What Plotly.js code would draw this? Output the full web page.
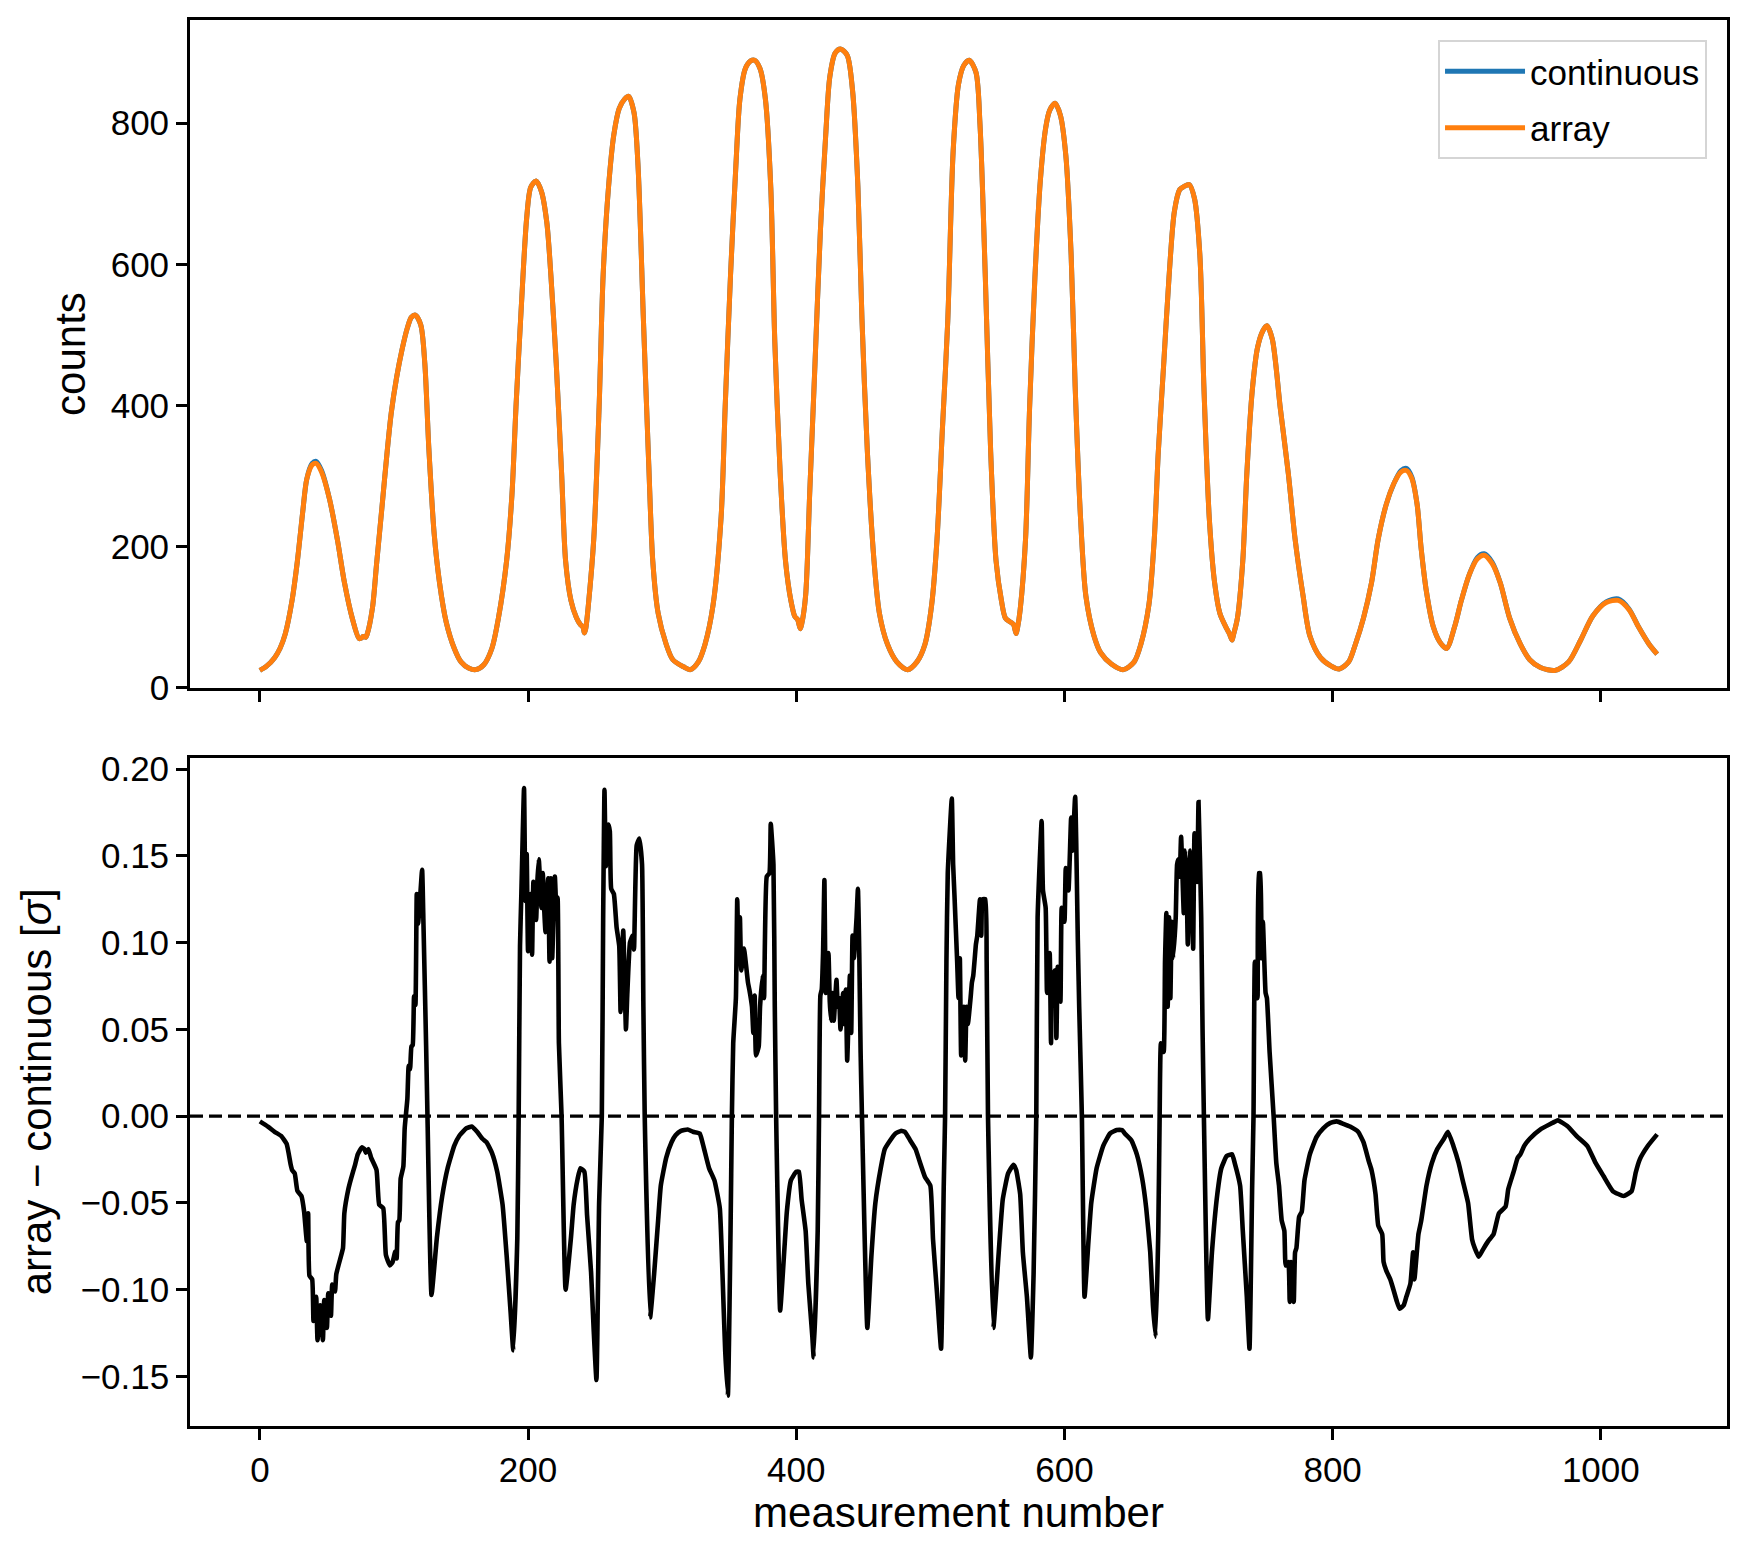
<!DOCTYPE html>
<html>
<head>
<meta charset="utf-8">
<script src="https://cdn.plot.ly/plotly-3.0.1.min.js"></script>
<style>
  html, body { margin: 0; padding: 0; background: #fff; }
  #chart { width: 1747px; height: 1550px; }
</style>
</head>
<body>
<div id="chart"></div>
<script>
// measurement numbers sampled for the top panel
var measTop = [
    0, 5, 11, 15, 19, 24, 28, 32, 35, 39,
    42, 46, 52, 58, 63, 69, 74, 76, 77, 79,
    80, 84, 87, 91, 95, 98, 102, 106, 110, 113,
    116, 120, 123, 126, 130, 134, 139, 145, 150, 156,
    161, 167, 173, 178, 184, 188, 191, 195, 199, 202,
    206, 210, 214, 217, 221, 225, 228, 232, 236, 239,
    241, 242, 243, 245, 249, 253, 256, 260, 264, 268,
    272, 275, 279, 282, 286, 290, 293, 297, 303, 308,
    316, 321, 327, 332, 338, 344, 347, 351, 355, 358,
    362, 366, 369, 373, 377, 381, 384, 388, 392, 396,
    399, 401, 403, 404, 407, 410, 414, 418, 422, 425,
    429, 433, 438, 442, 446, 449, 453, 458, 462, 468,
    475, 483, 490, 496, 501, 505, 509, 513, 517, 521,
    525, 529, 534, 537, 541, 545, 549, 553, 556, 560,
    562, 564, 565, 567, 571, 574, 578, 582, 586, 589,
    593, 597, 601, 605, 608, 612, 616, 622, 627, 635,
    644, 652, 657, 663, 667, 670, 674, 678, 682, 686,
    689, 693, 697, 701, 704, 708, 712, 716, 721, 723,
    725, 726, 729, 733, 736, 740, 744, 748, 751, 755,
    761, 767, 772, 778, 783, 791, 799, 805, 812, 817,
    823, 829, 834, 840, 846, 851, 855, 859, 863, 866,
    870, 875, 880, 885, 891, 896, 902, 908, 913, 919,
    925, 932, 940, 947, 955, 966, 976, 985, 994, 1004,
    1013, 1021, 1028, 1036, 1042
];

var countsContinuous = [
    25, 31, 43, 56, 77, 124, 180, 250, 296, 318,
    321, 308, 267, 208, 150, 98, 70, 71, 73, 72,
    76, 114, 175, 255, 336, 390, 440, 479, 510, 525,
    528, 514, 460, 340, 218, 149, 93, 56, 37, 28,
    26, 33, 56, 100, 180, 274, 398, 541, 666, 709,
    718, 703, 659, 585, 460, 305, 180, 124, 100, 90,
    86, 78, 84, 118, 211, 398, 585, 709, 784, 821,
    834, 838, 815, 740, 523, 317, 180, 106, 62, 40,
    30, 26, 37, 62, 118, 243, 398, 585, 740, 834,
    877, 888, 889, 877, 834, 709, 491, 305, 180, 124,
    101, 97, 84, 90, 131, 274, 460, 647, 784, 865,
    899, 905, 896, 846, 709, 523, 336, 180, 106, 62,
    37, 26, 37, 62, 118, 211, 367, 520, 760, 855,
    882, 889, 872, 799, 582, 334, 180, 124, 99, 93,
    90, 77, 85, 111, 211, 396, 582, 718, 793, 818,
    828, 811, 755, 613, 427, 241, 130, 74, 50, 34,
    26, 37, 62, 118, 211, 334, 458, 582, 675, 706,
    710, 713, 693, 613, 427, 241, 149, 105, 84, 77,
    68, 75, 99, 180, 303, 420, 482, 506, 513, 494,
    396, 303, 211, 130, 74, 43, 31, 27, 37, 62,
    99, 149, 211, 260, 291, 308, 311, 299, 260, 198,
    136, 87, 65, 56, 87, 124, 161, 185, 190, 178,
    149, 99, 62, 40, 29, 25, 37, 68, 102, 122,
    126, 112, 87, 62, 48
];

var countsArray = [
    25, 31, 43, 56, 77, 124, 180, 250, 296, 316,
    318, 306, 267, 208, 150, 98, 70, 71, 73, 72,
    76, 114, 175, 255, 336, 390, 440, 479, 510, 525,
    528, 514, 460, 340, 218, 149, 93, 56, 37, 28,
    26, 33, 56, 100, 180, 274, 398, 541, 666, 709,
    718, 703, 659, 585, 460, 305, 180, 124, 100, 90,
    86, 78, 84, 118, 211, 398, 585, 709, 784, 821,
    834, 838, 815, 740, 523, 317, 180, 106, 62, 40,
    30, 26, 37, 62, 118, 243, 398, 585, 740, 834,
    877, 888, 889, 877, 834, 709, 491, 305, 180, 124,
    101, 97, 84, 90, 131, 274, 460, 647, 784, 865,
    899, 905, 896, 846, 709, 523, 336, 180, 106, 62,
    37, 26, 37, 62, 118, 211, 367, 520, 760, 855,
    882, 889, 872, 799, 582, 334, 180, 124, 99, 93,
    90, 77, 85, 111, 211, 396, 582, 718, 793, 818,
    828, 811, 755, 613, 427, 241, 130, 74, 50, 34,
    26, 37, 62, 118, 211, 334, 458, 582, 675, 706,
    710, 713, 693, 613, 427, 241, 149, 105, 84, 77,
    68, 75, 99, 180, 303, 420, 482, 506, 513, 494,
    396, 303, 211, 130, 74, 43, 31, 27, 37, 62,
    99, 149, 211, 260, 291, 306, 308, 297, 260, 198,
    136, 87, 65, 56, 87, 124, 161, 183, 188, 176,
    149, 99, 62, 40, 29, 25, 37, 68, 102, 121,
    124, 111, 87, 62, 48
];

// measurement numbers sampled for the bottom panel
var measDiff = [
    0, 6, 11, 16, 20, 23, 24, 26, 28, 31,
    33, 35, 36, 37, 39, 40, 42, 43, 45, 47,
    48, 50, 51, 53, 54, 56, 57, 60, 62, 63,
    66, 68, 71, 73, 76, 78, 79, 81, 83, 87,
    89, 92, 94, 97, 99, 101, 102, 103, 104, 105,
    107, 108, 110, 111, 112, 113, 114, 115, 116, 117,
    118, 119, 121, 122, 124, 125, 128, 132, 136, 140,
    145, 149, 154, 158, 162, 166, 169, 173, 177, 181,
    184, 187, 189, 192, 193, 194, 195, 197, 198, 199,
    200, 202, 203, 204, 206, 207, 208, 210, 211, 212,
    213, 215, 216, 217, 218, 220, 221, 222, 223, 225,
    228, 232, 234, 237, 239, 242, 244, 247, 249, 251,
    253, 255, 256, 257, 258, 260, 261, 262, 264, 266,
    268, 269, 270, 271, 273, 274, 276, 278, 279, 281,
    283, 285, 286, 287, 291, 294, 297, 299, 303, 307,
    310, 314, 319, 323, 328, 331, 335, 339, 343, 345,
    347, 349, 351, 352, 353, 355, 356, 357, 358, 359,
    361, 362, 364, 365, 367, 368, 369, 370, 372, 373,
    375, 376, 378, 380, 381, 383, 384, 385, 388, 391,
    393, 396, 400, 402, 404, 407, 409, 412, 413, 416,
    417, 418, 419, 420, 421, 422, 424, 425, 426, 427,
    428, 430, 431, 432, 433, 435, 436, 437, 438, 440,
    441, 442, 443, 445, 446, 447, 448, 449, 453, 456,
    459, 463, 466, 470, 474, 478, 481, 485, 489, 492,
    496, 500, 502, 505, 508, 510, 511, 512, 513, 516,
    517, 518, 520, 521, 522, 523, 525, 526, 527, 528,
    530, 531, 532, 534, 535, 537, 538, 539, 541, 542,
    543, 547, 551, 554, 558, 562, 564, 567, 569, 572,
    575, 577, 579, 580, 583, 584, 586, 587, 589, 590,
    591, 593, 594, 595, 597, 598, 600, 601, 603, 605,
    606, 608, 610, 611, 613, 615, 618, 620, 624, 629,
    634, 639, 643, 645, 650, 654, 658, 661, 664, 666,
    668, 670, 671, 672, 674, 675, 676, 677, 678, 679,
    680, 681, 683, 684, 685, 686, 687, 689, 690, 691,
    692, 694, 695, 696, 697, 699, 700, 702, 703, 704,
    707, 710, 714, 717, 721, 725, 727, 731, 733, 736,
    738, 740, 741, 742, 744, 745, 746, 747, 748, 750,
    751, 753, 756, 758, 760, 762, 764, 765, 767, 768,
    769, 771, 772, 773, 775, 777, 779, 783, 788, 793,
    798, 803, 808, 813, 819, 823, 827, 829, 832, 834,
    837, 838, 840, 843, 845, 848, 850, 853, 855, 858,
    860, 861, 864, 866, 870, 874, 878, 883, 886, 890,
    894, 897, 901, 904, 906, 909, 912, 916, 920, 924,
    929, 931, 935, 938, 940, 943, 947, 955, 962, 968,
    975, 982, 990, 996, 1002, 1009, 1017, 1023, 1026, 1029,
    1035, 1042
];

// array - continuous, in units of sigma
var diffSigma = [
    -0.003, -0.006, -0.009, -0.0115, -0.016, -0.028, -0.031, -0.033, -0.043, -0.046,
    -0.055, -0.072, -0.056, -0.092, -0.094, -0.118, -0.104, -0.129, -0.109, -0.129,
    -0.106, -0.122, -0.102, -0.115, -0.097, -0.101, -0.091, -0.082, -0.076, -0.056,
    -0.042, -0.036, -0.028, -0.022, -0.018, -0.019, -0.021, -0.019, -0.024, -0.031,
    -0.051, -0.053, -0.080, -0.086, -0.084, -0.078, -0.082, -0.061, -0.060, -0.036,
    -0.029, -0.007, 0.010, 0.029, 0.027, 0.040, 0.041, 0.069, 0.064, 0.128,
    0.111, 0.120, 0.142, 0.111, 0.040, 0.000, -0.103, -0.070, -0.046, -0.030,
    -0.017, -0.011, -0.007, -0.006, -0.009, -0.013, -0.015, -0.021, -0.032, -0.051,
    -0.080, -0.113, -0.135, -0.070, 0.000, 0.098, 0.128, 0.189, 0.124, 0.151,
    0.095, 0.128, 0.093, 0.135, 0.113, 0.136, 0.148, 0.120, 0.140, 0.120,
    0.106, 0.137, 0.089, 0.137, 0.091, 0.138, 0.122, 0.126, 0.042, 0.000,
    -0.100, -0.070, -0.051, -0.036, -0.030, -0.032, -0.057, -0.090, -0.124, -0.152,
    -0.050, 0.000, 0.113, 0.188, 0.144, 0.168, 0.164, 0.131, 0.128, 0.109,
    0.098, 0.060, 0.089, 0.107, 0.050, 0.070, 0.100, 0.104, 0.096, 0.156,
    0.160, 0.145, 0.063, 0.000, -0.116, -0.091, -0.060, -0.040, -0.024, -0.015,
    -0.011, -0.0085, -0.0077, -0.009, -0.010, -0.018, -0.030, -0.037, -0.053, -0.091,
    -0.135, -0.161, -0.066, 0.000, 0.042, 0.068, 0.125, 0.091, 0.1145, 0.084,
    0.0965, 0.091, 0.077, 0.073, 0.063, 0.048, 0.0695, 0.035, 0.040, 0.063,
    0.081, 0.068, 0.138, 0.140, 0.1685, 0.145, 0.063, 0.000, -0.112, -0.0785,
    -0.055, -0.037, -0.032, -0.032, -0.048, -0.066, -0.0965, -0.127, -0.139, -0.066,
    0.000, 0.0695, 0.073, 0.094, 0.136, 0.071, 0.094, 0.066, 0.055, 0.071,
    0.055, 0.0785, 0.063, 0.068, 0.050, 0.071, 0.053, 0.073, 0.032, 0.081,
    0.048, 0.104, 0.091, 0.1145, 0.131, 0.094, 0.037, 0.000, -0.122, -0.081,
    -0.050, -0.030, -0.019, -0.014, -0.010, -0.0085, -0.009, -0.014, -0.019, -0.026,
    -0.035, -0.040, -0.071, -0.102, -0.134, -0.040, 0.000, 0.089, 0.140, 0.183,
    0.145, 0.127, 0.089, 0.068, 0.091, 0.035, 0.063, 0.032, 0.063, 0.053,
    0.068, 0.077, 0.081, 0.099, 0.104, 0.125, 0.104, 0.125, 0.125, 0.089,
    0.000, -0.122, -0.0785, -0.048, -0.033, -0.028, -0.031, -0.045, -0.0785, -0.104,
    -0.139, -0.091, 0.000, 0.1145, 0.170, 0.130, 0.120, 0.071, 0.094, 0.042,
    0.081, 0.084, 0.045, 0.086, 0.066, 0.120, 0.112, 0.143, 0.130, 0.172,
    0.153, 0.184, 0.101, 0.063, 0.000, -0.104, -0.071, -0.050, -0.030, -0.017,
    -0.010, -0.008, -0.008, -0.010, -0.014, -0.022, -0.036, -0.053, -0.0785, -0.109,
    -0.127, -0.066, 0.000, 0.042, 0.037, 0.089, 0.117, 0.063, 0.1145, 0.068,
    0.112, 0.091, 0.1145, 0.145, 0.148, 0.138, 0.161, 0.117, 0.153, 0.140,
    0.099, 0.153, 0.135, 0.0965, 0.163, 0.135, 0.181, 0.1145, 0.050, 0.000,
    -0.117, -0.0785, -0.045, -0.030, -0.023, -0.022, -0.027, -0.040, -0.066, -0.104,
    -0.134, -0.040, 0.000, 0.089, 0.068, 0.140, 0.140, 0.091, 0.112, 0.071,
    0.068, 0.037, 0.000, -0.027, -0.040, -0.060, -0.066, -0.086, -0.084, -0.107,
    -0.084, -0.107, -0.0785, -0.076, -0.058, -0.055, -0.037, -0.022, -0.012, -0.007,
    -0.004, -0.003, -0.0044, -0.006, -0.009, -0.015, -0.026, -0.031, -0.045, -0.063,
    -0.068, -0.084, -0.089, -0.094, -0.099, -0.107, -0.111, -0.109, -0.104, -0.0965,
    -0.0785, -0.094, -0.068, -0.0605, -0.040, -0.027, -0.019, -0.013, -0.009, -0.017,
    -0.027, -0.037, -0.050, -0.071, -0.076, -0.081, -0.077, -0.072, -0.068, -0.056,
    -0.052, -0.042, -0.032, -0.024, -0.022, -0.017, -0.013, -0.0076, -0.0047, -0.0024,
    -0.0057, -0.0115, -0.0172, -0.0268, -0.0345, -0.0432, -0.046, -0.0432, -0.0326, -0.025,
    -0.0172, -0.0105
];

var zeroLevel = 0;

var axisStyle = {
    showline: true,
    linecolor: '#000',
    linewidth: 2.8,
    mirror: true,
    ticks: 'outside',
    ticklen: 11,
    tickwidth: 2.8,
    tickcolor: '#000',
    showgrid: false,
    zeroline: false
};

var traceContinuous = {
    x: measTop,
    y: countsContinuous,
    name: 'continuous',
    legendgroup: 'continuous',
    type: 'scatter',
    mode: 'lines',
    xaxis: 'x',
    yaxis: 'y',
    line: { color: '#1f77b4', width: 5, shape: 'spline', smoothing: 0.8 }
};

var traceArray = {
    x: measTop,
    y: countsArray,
    name: 'array',
    legendgroup: 'array',
    type: 'scatter',
    mode: 'lines',
    xaxis: 'x',
    yaxis: 'y',
    line: { color: '#ff7f0e', width: 5, shape: 'spline', smoothing: 0.8 }
};

var traceDiff = {
    x: measDiff,
    y: diffSigma,
    name: 'difference',
    type: 'scatter',
    mode: 'lines',
    xaxis: 'x2',
    yaxis: 'y2',
    showlegend: false,
    line: { color: '#000', width: 4.6, shape: 'spline', smoothing: 0.4 }
};

var data = [traceContinuous, traceArray, traceDiff];

var layout = {
    width: 1747,
    height: 1550,
    font: {
        family: '"Liberation Sans", Arial, Helvetica, sans-serif',
        size: 35,
        color: '#000'
    },
    paper_bgcolor: '#fff',
    plot_bgcolor: '#fff',
    margin: { l: 190, r: 20, t: 20, b: 124 },
    showlegend: true,
    legend: {
        x: 0.987,
        y: 0.9858,
        xanchor: 'right',
        yanchor: 'top',
        bgcolor: '#fff',
        bordercolor: '#d5d5d5',
        borderwidth: 2,
        traceorder: 'grouped',
        tracegroupgap: 8,
        itemwidth: 80,
        font: { size: 35 }
    },
    xaxis: Object.assign({}, axisStyle, {
        domain: [0, 1],
        anchor: 'y',
        range: [-52.1, 1094.1],
        tick0: 0,
        dtick: 200,
        showticklabels: false
    }),
    yaxis: Object.assign({}, axisStyle, {
        domain: [0.5249, 1],
        anchor: 'x',
        range: [0, 946],
        tick0: 0,
        dtick: 200,
        title: { text: 'counts', standoff: 12 }
    }),
    xaxis2: Object.assign({}, axisStyle, {
        domain: [0, 1],
        anchor: 'y2',
        matches: 'x',
        range: [-52.1, 1094.1],
        tick0: 0,
        dtick: 200,
        title: { text: 'measurement number', standoff: 8 }
    }),
    yaxis2: Object.assign({}, axisStyle, {
        domain: [0, 0.4753],
        anchor: 'x2',
        range: [-0.1785, 0.2065],
        tick0: 0,
        dtick: 0.05,
        tickformat: '.2f',
        title: { text: 'array \u2212 continuous [<i>\u03c3</i>]', standoff: 16 }
    }),
    shapes: [{
        type: 'line',
        xref: 'x2 domain',
        yref: 'y2',
        x0: 0,
        x1: 1,
        y0: zeroLevel,
        y1: zeroLevel,
        layer: 'below',
        line: { color: '#000', width: 3.4, dash: '13px,6px' }
    }]
};

Plotly.newPlot('chart', data, layout, { displayModeBar: false, responsive: false });
</script>
</body>
</html>
